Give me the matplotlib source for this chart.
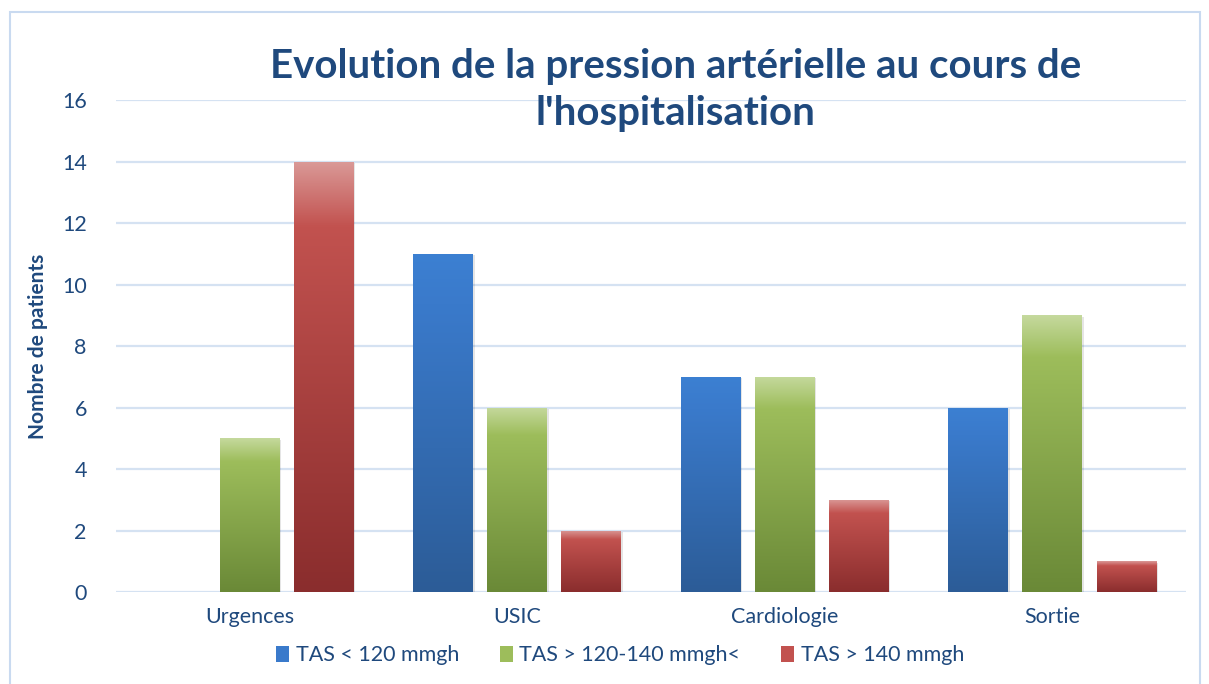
import numpy as np
import matplotlib
matplotlib.use("Agg")
import matplotlib.pyplot as plt
from matplotlib.colors import LinearSegmentedColormap
from matplotlib.patches import Rectangle
import matplotlib.patheffects as pe

plt.rcParams['font.family'] = ['Lato', 'DejaVu Sans']

categories = ["Urgences", "USIC", "Cardiologie", "Sortie"]
series_names = ["TAS < 120 mmgh", "TAS > 120-140 mmgh<", "TAS > 140 mmgh"]
tas_low = [0, 11, 7, 6]
tas_mid = [5, 6, 7, 9]
tas_high = [14, 2, 3, 1]
yticks = [0, 2, 4, 6, 8, 10, 12, 14, 16]

# gradient stops (top -> bottom) for each series
grad_blue = ["#3c80d2", "#3a7acb", "#2c5c97"]
grad_green = ["#c5d99d", "#9dbd5b", "#6a8937"]
grad_red = ["#da9997", "#c2524f", "#8a2d2d"]

text_col = "#1f497d"

fig = plt.figure(figsize=(12.09, 6.84), dpi=100)
ax = fig.add_axes([0.0959, 0.1345, 0.8852, 0.7193])

# outer chart border
fig.patches.append(Rectangle((0.0083, -0.01), 0.9842, 0.9925, transform=fig.transFigure,
                             fill=False, edgecolor="#c9daf0", linewidth=1.5))

x = np.arange(len(categories))
width = 0.224
step = 0.277

for i, (vals, stops) in enumerate([(tas_low, grad_blue), (tas_mid, grad_green), (tas_high, grad_red)]):
    cmap = LinearSegmentedColormap.from_list("g%d" % i, [(0, stops[2]), (0.85, stops[1]), (1, stops[0])])
    bars = ax.bar(x + (i - 1) * step, vals, width, color="none", edgecolor="none", zorder=3)
    for b in bars:
        h = b.get_height()
        if h <= 0:
            continue
        x0 = b.get_x()
        shadow = Rectangle((x0, 0), width, h, facecolor="white", edgecolor="none", zorder=2.5,
                           path_effects=[pe.SimplePatchShadow(offset=(1, -1), shadow_rgbFace="#000000", alpha=0.1)])
        ax.add_patch(shadow)
        grad = np.linspace(0, 1, 256).reshape(-1, 1)
        im = ax.imshow(grad, cmap=cmap, origin="lower", aspect="auto",
                       extent=(x0, x0 + width, 0, h), zorder=3)
        im.set_clip_path(b)

ax.set_xlim(-0.5, len(categories) - 0.5)
ax.set_ylim(0, 16)

ax.set_yticks(yticks)
ax.set_xticks(x)
ax.set_xticklabels(categories)
ax.tick_params(axis="both", length=0, labelsize=15.5, labelcolor=text_col)
ax.tick_params(axis="y", pad=21)
ax.tick_params(axis="x", pad=11)
ax.grid(axis="y", color="#d5e2f2", linewidth=1.6, zorder=0)
ax.set_axisbelow(True)
for s in ax.spines.values():
    s.set_visible(False)

ax.set_ylabel("Nombre de patients", fontsize=15, fontweight="bold", color=text_col, labelpad=10)

fig.text(0.559, 0.868, "Evolution de la pression artérielle au cours de\nl'hospitalisation",
         ha="center", va="center", fontsize=29, fontweight="bold", color=text_col, linespacing=1.32)

handles = [Rectangle((0, 0), 1, 1, facecolor=c[1]) for c in (grad_blue, grad_green, grad_red)]
fig.legend(handles, series_names, loc="center", bbox_to_anchor=(0.513, 0.042), ncol=3, frameon=False,
           fontsize=15.5, labelcolor=text_col, handlelength=0.6, handleheight=0.8, handletextpad=0.3,
           columnspacing=1.9)

fig.savefig("out.png", dpi=100)
